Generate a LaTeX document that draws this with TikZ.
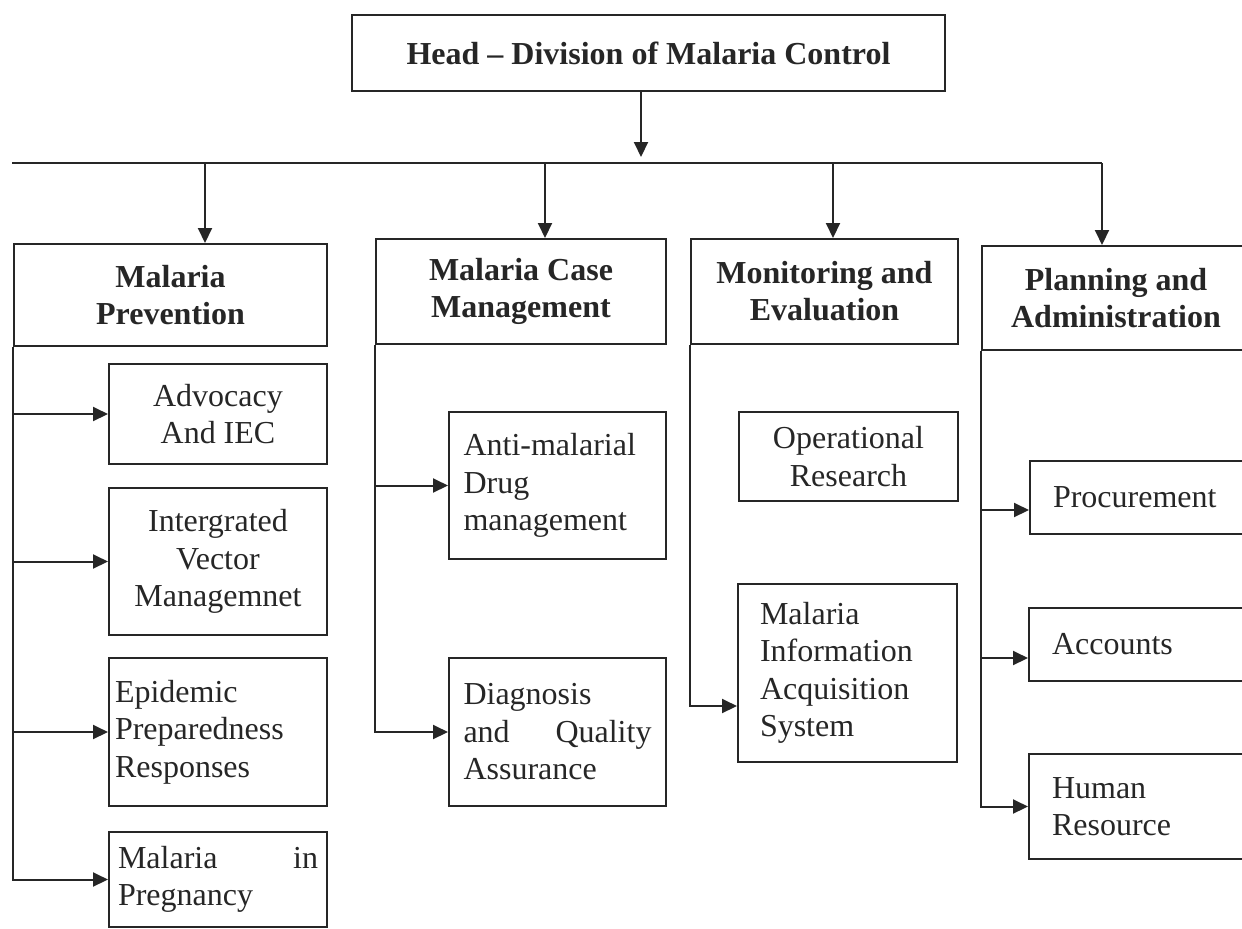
\documentclass[tikz,border=0pt]{standalone}
\usepackage{fontspec}
\setmainfont{Liberation Serif}
\usetikzlibrary{arrows.meta}
\begin{document}
\begin{tikzpicture}[x=0.5pt, y=-0.5pt, color=black!85,
  unit/.style={draw, line width=1pt, anchor=north west, inner sep=0pt, align=center, font=\bfseries\fontsize{16}{18.5}\selectfont},
  task/.style={draw, line width=1pt, anchor=north west, inner sep=0pt, font=\fontsize{16}{18.75}\selectfont},
  link/.style={line width=1pt, -{Triangle[length=7.5pt,width=7pt]}}]
\useasboundingbox (0,0) rectangle (1242,928);
\node[unit, minimum width=296.5pt, minimum height=38pt] (head) at (351,14){Head – Division of Malaria Control};
\node[unit, minimum width=156.5pt, minimum height=51pt] (prev) at (13,243){Malaria\\Prevention};
\node[unit, minimum width=145pt, minimum height=52.5pt] (case) at (375,238){Malaria Case\\Management};
\node[unit, minimum width=133.5pt, minimum height=52.5pt] (mon) at (690,238){Monitoring and\\Evaluation};
\node[unit, minimum width=134pt, minimum height=52pt] (plan) at (981,245){Planning and\\Administration};
\node[task, minimum width=109pt, minimum height=50pt, align=center] (adv) at (108,363){Advocacy\\And IEC};
\node[task, minimum width=109pt, minimum height=73.5pt, align=center] (ivm) at (108,487){Intergrated\\Vector\\Managemnet};
\node[task, minimum width=109pt, minimum height=74pt, text width=103pt, align=left] (epi) at (108,657){Epidemic\\Preparedness\\Responses};
\node[task, minimum width=109pt, minimum height=47.5pt, text width=100pt, align=left] (mip) at (108,831){Malaria\hfill in\\Pregnancy};
\node[task, minimum width=108.5pt, minimum height=73.5pt, text width=94pt, align=left] (anti) at (448,411){Anti-malarial\\Drug\\management};
\node[task, minimum width=108.5pt, minimum height=74pt, text width=94pt, align=left] (diag) at (448,657){Diagnosis\\and\hfill Quality\\Assurance};
\node[task, minimum width=109.5pt, minimum height=44.5pt, align=center] (oper) at (738,411){Operational\\Research};
\node[task, minimum width=109.5pt, minimum height=89pt, text width=87.5pt, align=left] (info) at (737,583){Malaria\\Information\\Acquisition\\System};
\node[task, minimum width=110pt, minimum height=36.5pt, text width=87pt, align=left] (proc) at (1029,460){Procurement};
\node[task, minimum width=110.5pt, minimum height=36.5pt, text width=87.5pt, align=left] (acc) at (1028,607){Accounts};
\node[task, minimum width=110.5pt, minimum height=52.5pt, text width=87.5pt, align=left] (hr) at (1028,753){Human\\Resource};
\coordinate (hub) at (641,157);
\coordinate (busL) at (12,163);
\coordinate (busR) at (1102,163);
\coordinate (d1) at (205,163);
\coordinate (d2) at (545,163);
\coordinate (d3) at (833,163);
\draw[link] (head.south -| hub) -- (hub);
\draw[line width=1pt] (busL) -- (busR);
\draw[link] (d1) -- (d1 |- prev.north);
\draw[link] (d2) -- (d2 |- case.north);
\draw[link] (d3) -- (d3 |- mon.north);
\draw[link] (busR) -- (busR |- plan.north);
\draw[link] (prev.south west) |- (adv.west);
\draw[link] (prev.south west) |- (ivm.west);
\draw[link] (prev.south west) |- (epi.west);
\draw[link] (prev.south west) |- (mip.west);
\draw[link] (case.south west) |- (anti.west);
\draw[link] (case.south west) |- (diag.west);
\draw[link] (mon.south west) |- ([yshift=-16.5pt]info.west);
\draw[link] (plan.south west) |- ([yshift=-6.25pt]proc.west);
\draw[link] (plan.south west) |- ([yshift=-6.75pt]acc.west);
\draw[link] (plan.south west) |- (hr.west);
\end{tikzpicture}
\end{document}
